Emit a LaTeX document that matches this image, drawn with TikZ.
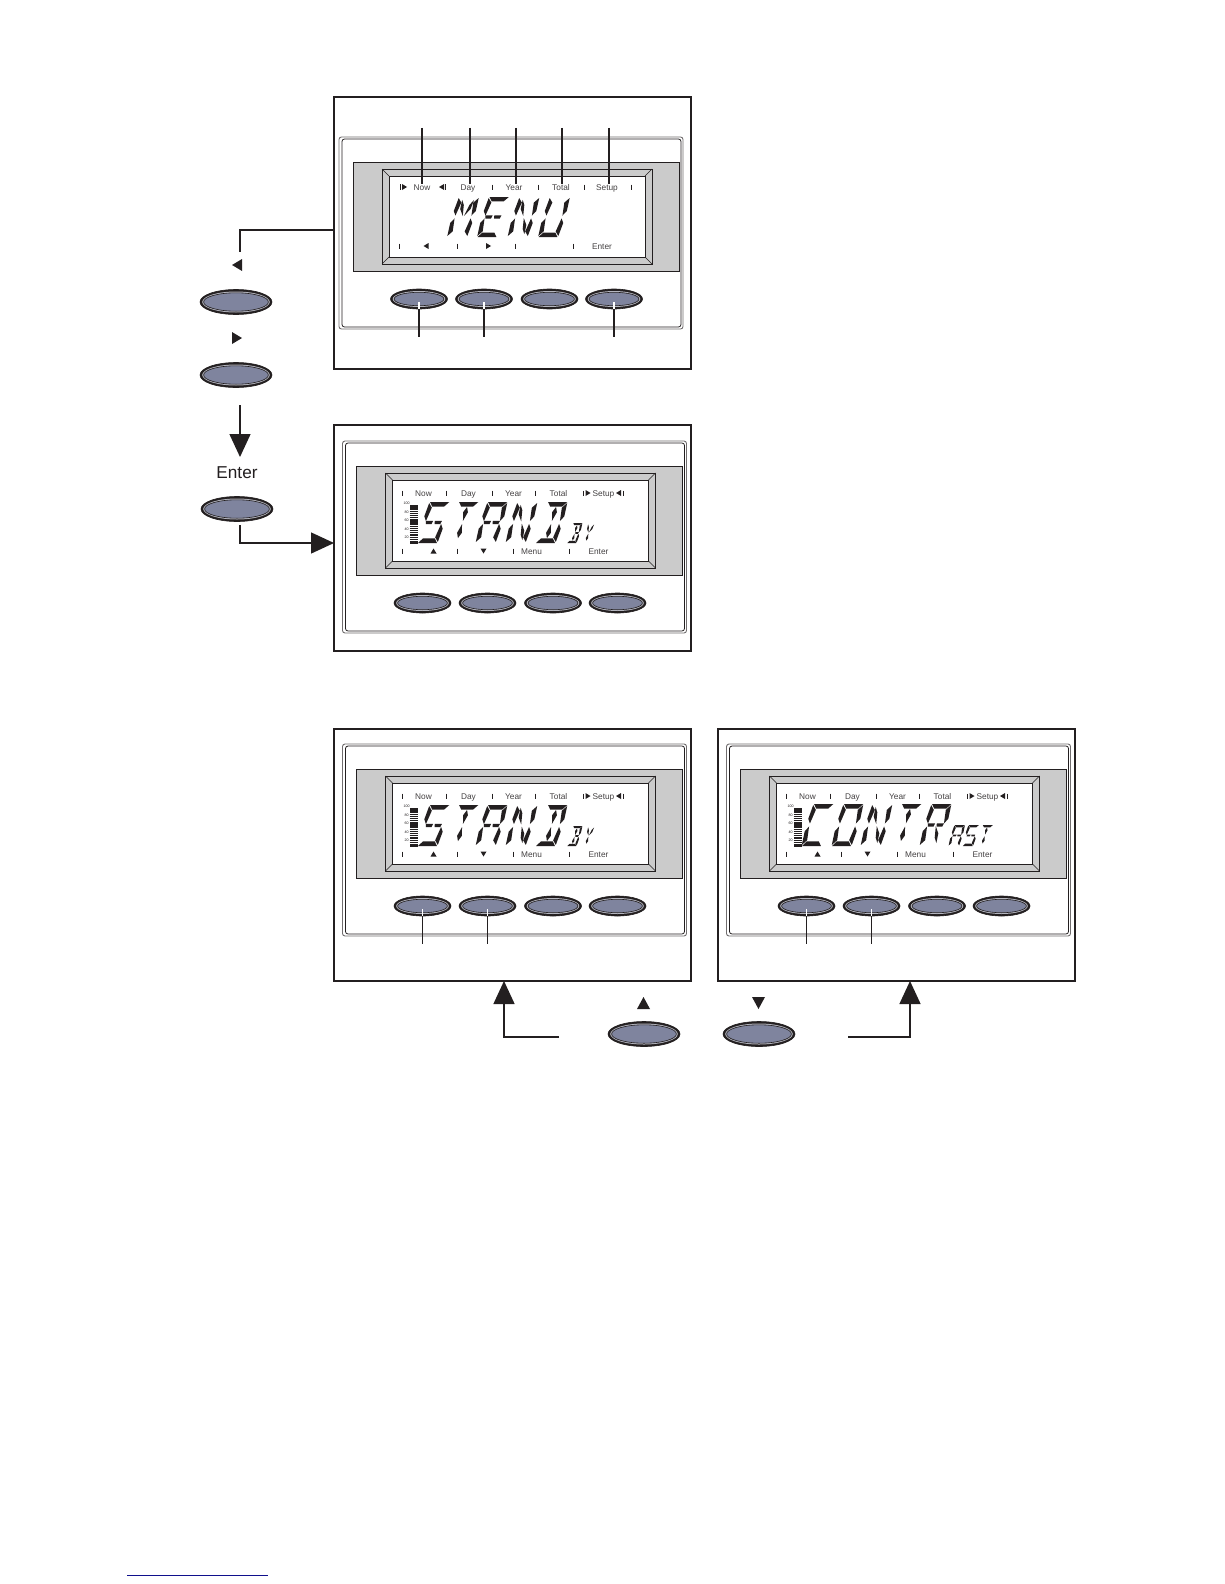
\documentclass[tikz,border=0pt]{standalone}
\usepackage{fontspec}
\setmainfont{Liberation Sans}
\usetikzlibrary{arrows.meta,shapes.geometric}
\definecolor{ink}{HTML}{231F20}
\definecolor{bandgrey}{HTML}{CBCBCB}
\definecolor{btnfill}{HTML}{7F849E}
\definecolor{btnring}{HTML}{B4B5BE}
\definecolor{rulerblue}{HTML}{10108C}
\tikzset{
  panelbox/.style={draw=ink,line width=1.5pt,fill=white,rectangle,inner sep=0pt,outer sep=0pt},
  flow/.style={draw=ink,line width=1.4pt,-{Triangle[length=23pt,width=21pt]}},
  plainflow/.style={draw=ink,line width=1.4pt},
  lead/.style={draw=ink,line width=1.3pt},
  whitelead/.style={draw=white,line width=1.2pt},
  lcdtext/.style={font=\fontsize{8.3}{9}\selectfont,text=ink!85,inner sep=0pt,outer sep=0pt,anchor=base,yshift=-3pt},
  bigtext/.style={font=\fontsize{17.2}{19}\selectfont,text=ink,inner sep=0pt,outer sep=0pt},
  tinytext/.style={font=\fontsize{3.6}{4}\selectfont,text=ink,inner sep=0pt,outer sep=0pt},
  btnouter/.style={ellipse,fill=ink,draw=ink,line width=.6pt,inner sep=0pt,outer sep=0pt},
  btnmid/.style={fill=btnring},
  btninner/.style={fill=btnfill,draw=ink,line width=.6pt},
  lcdmark/.style={fill=ink},
  tick/.style={draw=ink,line width=.9pt},
  devline/.style={draw=ink,line width=.8pt,rounded corners=2.5pt},
  devgrey/.style={draw=ink!65,line width=.9pt,rounded corners=2.5pt},
}
% button: name, x, y, half width, half height
\newcommand\pushbtn[5]{%
  \node[btnouter,minimum width=#4*2pt,minimum height=#5*2pt] (#1) at (#2,#3) {};
  \fill[btnmid] (#1.center) ellipse ({#4-2.2} and {#5-2.0});
  \path[btninner] (#1.center) ellipse ({#4-3.6} and {#5-3.3});
}
% LCD segments, unit cell: u 0..1, v 0..2
\newcommand\sT{\fill (.03,2)--(.99,2)--(.8,1.78)--(.2,1.78)--cycle;}
\newcommand\sB{\fill (.03,0)--(.97,0)--(.8,.22)--(.2,.22)--cycle;}
\newcommand\sUL{\fill (.0,1.95)--(.2,1.72)--(.1,1.07)--(-.05,1.3)--cycle;}
\newcommand\sUR{\fill (1,1.95)--(.8,1.72)--(.9,1.07)--(1.05,1.3)--cycle;}
\newcommand\sLL{\fill (.0,.05)--(.2,.28)--(.1,.93)--(-.05,.7)--cycle;}
\newcommand\sLR{\fill (1,.05)--(.8,.28)--(.9,.93)--(1.05,.7)--cycle;}
\newcommand\sML{\fill (.1,1.08)--(.46,1.08)--(.42,.92)--(.14,.92)--cycle;}
\newcommand\sMR{\fill (.54,1.08)--(.9,1.08)--(.86,.92)--(.58,.92)--cycle;}
\newcommand\sCU{\fill (.5,1.76)--(.62,1.5)--(.5,1.08)--(.38,1.5)--cycle;}
\newcommand\sCL{\fill (.5,.24)--(.62,.5)--(.5,.92)--(.38,.5)--cycle;}
\newcommand\sDUL{\fill (.2,1.86)--(.36,1.6)--(.47,1.05)--(.24,1.4)--cycle;}
\newcommand\sDUR{\fill (.8,1.86)--(.64,1.6)--(.53,1.05)--(.76,1.4)--cycle;}
\newcommand\sDLR{\fill (.8,.14)--(.64,.4)--(.53,.95)--(.76,.6)--cycle;}
\newcommand\glM{\sUL\sLL\sUR\sLR\sDUL\sDUR}
\newcommand\glE{\sT\sB\sUL\sLL\sML\sMR}
\newcommand\glN{\sUL\sLL\sUR\sLR\sDUL\sDLR}
\newcommand\glU{\sUL\sLL\sUR\sLR\sB}
\newcommand\glS{\sT\sUL\sML\sMR\sLR\sB}
\newcommand\glT{\sT\sCU\sCL}
\newcommand\glA{\sT\sUL\sLL\sUR\sLR\sML\sMR}
\newcommand\glD{\sT\sB\sUR\sLR\sCU\sCL}
\newcommand\glB{\sT\sB\sUR\sLR\sCU\sCL\sMR}
\newcommand\glY{\sDUL\sDUR\sCL}
\newcommand\glC{\sT\sB\sUL\sLL}
\newcommand\glO{\sT\sB\sUL\sLL\sUR\sLR}
\newcommand\glR{\sT\sUL\sLL\sUR\sML\sMR\sDLR}
% glyph: x, baseline y, width, slant, half height, letter
\newcommand\lcdglyph[6]{%
  \begin{scope}[shift={(#1,#2)},x={(#3pt,0pt)},y={(#4pt,#5pt)}]
    \begingroup\color{ink}#6\endgroup
  \end{scope}}
% device body in coordinates of the first panel
\newcommand\devicebody{%
  \draw[devgrey] (339,137) rectangle (683,329);
  \draw[devline] (342,139) rectangle (681,327);
  \draw[draw=ink,line width=.9pt,fill=bandgrey] (353,162) rectangle (679,271);
  \draw[draw=ink,line width=.8pt,fill=bandgrey] (382,169) rectangle (652,264);
  \draw[draw=ink,line width=.6pt,fill=white] (389,176) rectangle (645,257);
  \draw[draw=ink,line width=.6pt] (382,169)--(389,176) (652,169)--(645,176) (382,264)--(389,257) (652,264)--(645,257);
}
\newcommand\rbar[1]{\draw[tick] (#1,186.5)--(#1,191.5);}
\newcommand\bbar[1]{\draw[tick] (#1,244.5)--(#1,249.5);}
\newcommand\barL[2]{\fill[lcdmark] (#1,#2)--(#1+5,#2-3)--(#1+5,#2+3)--cycle;}
\newcommand\barR[2]{\fill[lcdmark] (#1+5,#2)--(#1,#2-3)--(#1,#2+3)--cycle;}
% standard level scale of the second style of display
\newcommand\levelscale[1]{%
  \node[tinytext] (#1-l100) at (403,199.5) {100};
  \node[tinytext] (#1-l80) at (403,208) {80};
  \node[tinytext] (#1-l60) at (403,216.5) {60};
  \node[tinytext] (#1-l40) at (403,225) {40};
  \node[tinytext] (#1-l20) at (403,233.5) {20};
  \fill[ink] (406,201) rectangle (414,205.5);
  \foreach \yy in {207,209,211,213,222,224,226,228,233,235} {\draw[ink,line width=.75pt] (406,\yy)--(414,\yy);}
  \fill[ink] (406,214.5) rectangle (414,220.5);
  \fill[ink] (406,230) rectangle (414,231.5);
  \fill[ink] (406,236.5) rectangle (414,239.5);
}
\newcommand\secondlabels[1]{%
  \node[lcdtext] (#1-now) at (420,189) {Now};
  \node[lcdtext] (#1-day) at (465,189) {Day};
  \node[lcdtext] (#1-year) at (510,189) {Year};
  \node[lcdtext] (#1-total) at (555,189) {Total};
  \node[lcdtext] (#1-setup) at (600,189) {Setup};
  \rbar{399}\rbar{443}\rbar{489}\rbar{532}\rbar{580}\rbar{620}
  \barR{582}{189}\barL{612.5}{189}
  \bbar{399}\bbar{454}\bbar{510}\bbar{566}
  \fill[lcdmark] (430,244.5)--(427,249.5)--(433,249.5)--cycle;
  \fill[lcdmark] (480,249.5)--(477,244.5)--(483,244.5)--cycle;
  \node[lcdtext] (#1-menu) at (528,247) {Menu};
  \node[lcdtext] (#1-enter) at (595,247) {Enter};
}
\newcommand\fourbuttons[1]{%
  \pushbtn{#1-b1}{419}{299}{28.5}{10}
  \pushbtn{#1-b2}{484}{299}{28.5}{10}
  \pushbtn{#1-b3}{549.5}{299}{28.5}{10}
  \pushbtn{#1-b4}{614}{299}{28.5}{10}
}
\newcommand\btnleader[2]{%
  \coordinate (#1-end) at (#1.center |- 0,337);
  \draw[whitelead] (#1.center) ++(0,3) -- (#1.south);
  \draw[lead] (#1.south) -- (#1-end);
}
\begin{document}
\begin{tikzpicture}[x=1pt,y=-1pt]
\useasboundingbox (0,0) rectangle (1224,1584);
\fill[white] (0,0) rectangle (1224,1584);

% outer frames
\node[panelbox,minimum width=357pt,minimum height=272pt] (p1) at (512.5,233) {};
\node[panelbox,minimum width=357pt,minimum height=226pt] (p2) at (512.5,538) {};
\node[panelbox,minimum width=357pt,minimum height=252pt] (p3) at (512.5,855) {};
\node[panelbox,minimum width=357pt,minimum height=252pt] (p4) at (896.5,855) {};

% panel 1: MENU
\devicebody
\node[lcdtext] (a-now) at (422,187) {Now};
\node[lcdtext] (a-day) at (468,187) {Day};
\node[lcdtext] (a-year) at (514,187) {Year};
\node[lcdtext] (a-total) at (561,187) {Total};
\node[lcdtext] (a-setup) at (607,187) {Setup};
\fill[ink] (400,184) rectangle (401.2,190); \barR{402}{187}
\barL{439}{187} \fill[ink] (444.8,184) rectangle (446,190);
\draw[tick] (492,184.5)--(492,189.5) (538,184.5)--(538,189.5) (584,184.5)--(584,189.5) (631,184.5)--(631,189.5);
\draw[tick] (399,243.5)--(399,248.5) (457,243.5)--(457,248.5) (515,243.5)--(515,248.5) (573,243.5)--(573,248.5);
\barL{423.5}{246}\barR{486}{246}
\node[lcdtext] (a-enter) at (602,246) {Enter};
\lcdglyph{447}{237}{20}{6}{20}{\glM}
\lcdglyph{477}{237}{20}{6}{20}{\glE}
\lcdglyph{507.5}{237}{20}{6}{20}{\glN}
\lcdglyph{538}{237}{20}{6}{20}{\glU}
\fourbuttons{a}
\foreach \nm/\xx in {now/422,day/470,year/516,total/562,setup/609}{
  \coordinate (top-\nm) at (\xx,128);
  \draw[lead] (top-\nm) -- (top-\nm |- a-\nm.north);
}
\btnleader{a-b1}{}\btnleader{a-b2}{}\btnleader{a-b4}{}

% panel 2: STANDBY
\begin{scope}[shift={(3.5,304)}]
\devicebody
\secondlabels{b}
\levelscale{b}
\lcdglyph{414}{239}{20}{6}{20.5}{\glS}
\lcdglyph{443}{239}{20}{6}{20.5}{\glT}
\lcdglyph{472}{239}{20}{6}{20.5}{\glA}
\lcdglyph{502}{239}{20}{6}{20.5}{\glN}
\lcdglyph{532}{239}{20}{6}{20.5}{\glD}
\lcdglyph{563.5}{239}{9.5}{3}{10}{\glB}
\lcdglyph{577}{239}{10}{3}{10}{\glY}
\fourbuttons{b}
\end{scope}

% panel 3: STANDBY
\begin{scope}[shift={(3.5,607)}]
\devicebody
\secondlabels{c}
\levelscale{c}
\lcdglyph{414}{239}{20}{6}{20.5}{\glS}
\lcdglyph{443}{239}{20}{6}{20.5}{\glT}
\lcdglyph{472}{239}{20}{6}{20.5}{\glA}
\lcdglyph{502}{239}{20}{6}{20.5}{\glN}
\lcdglyph{532}{239}{20}{6}{20.5}{\glD}
\lcdglyph{563.5}{239}{9.5}{3}{10}{\glB}
\lcdglyph{577}{239}{10}{3}{10}{\glY}
\fourbuttons{c}
\btnleader{c-b1}{}\btnleader{c-b2}{}
\end{scope}

% panel 4: CONTRAST
\begin{scope}[shift={(387.5,607)}]
\devicebody
\secondlabels{d}
\levelscale{d}
\lcdglyph{414}{239}{20}{6}{21}{\glC}
\lcdglyph{444}{239}{20}{6}{21}{\glO}
\lcdglyph{473}{239}{20}{6}{21}{\glN}
\lcdglyph{502}{239}{20}{6}{21}{\glT}
\lcdglyph{532}{239}{20}{6}{21}{\glR}
\lcdglyph{561}{239}{10.5}{3}{10.5}{\glA}
\lcdglyph{575}{239}{10.5}{3}{10.5}{\glS}
\lcdglyph{589}{239}{10.5}{3}{10.5}{\glT}
\fourbuttons{d}
\btnleader{d-b1}{}\btnleader{d-b2}{}
\end{scope}

% left column
\pushbtn{left1}{236}{302}{36}{12.5}
\pushbtn{left2}{236}{375}{36}{12.5}
\pushbtn{left3}{237}{509}{36}{12.5}
\fill[ink] (232,265)--(242,259)--(242,271)--cycle;
\fill[ink] (242,338)--(232,332)--(232,344)--cycle;
\node[bigtext] (enterlabel) at (237,473) {Enter};

\coordinate (c1start) at (334,230);
\coordinate (c1end) at (240,252);
\draw[plainflow] (c1start) -| (c1end);
\coordinate (c2start) at (240,405);
\coordinate (c2end) at (240,457);
\draw[flow] (c2start) -- (c2end);
\coordinate (c3start) at (240,525);
\coordinate (c3bend) at (240,543);
\draw[flow] (c3start) -- (c3bend) -- (p2.west |- c3bend);

% bottom row
\pushbtn{low1}{644}{1034}{36}{12.5}
\pushbtn{low2}{759}{1034}{36}{12.5}
\fill[ink] (643.5,997)--(637,1009)--(650,1009)--cycle;
\fill[ink] (758.5,1009)--(752,997)--(765,997)--cycle;
\coordinate (c4start) at (559,1037);
\coordinate (c4bend) at (504,1037);
\draw[flow] (c4start) -- (c4bend) -- (c4bend |- p3.south);
\coordinate (c5start) at (848,1037);
\coordinate (c5bend) at (910,1037);
\draw[flow] (c5start) -- (c5bend) -- (c5bend |- p4.south);

% rule at foot of page
\coordinate (r1) at (127,1575);
\coordinate (r2) at (268,1575);
\draw[rulerblue,line width=1pt] (r1) -- (r2);
\end{tikzpicture}
\end{document}
